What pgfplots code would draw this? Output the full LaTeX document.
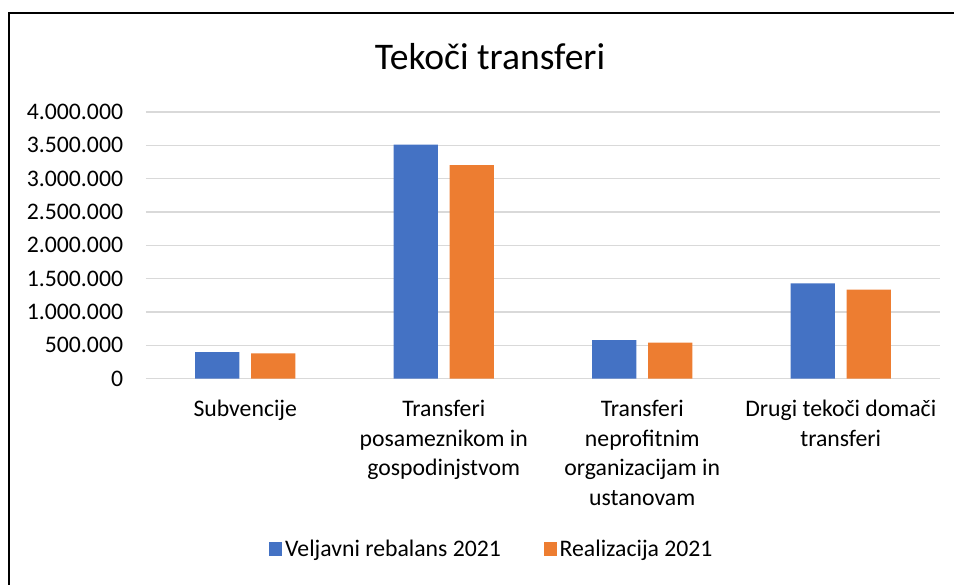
\documentclass[border=0pt]{standalone}
\usepackage{pgfplots}
\pgfplotsset{compat=1.18}
\usepackage{fontspec}
\setmainfont{Carlito}
\definecolor{xlBlue}{HTML}{4472C4}
\definecolor{xlOrange}{HTML}{ED7D31}
\definecolor{xlGrid}{HTML}{D9D9D9}
\begin{document}
\begin{tikzpicture}
\useasboundingbox (0pt,0pt) rectangle (715.5pt,438.75pt);
% outer frame: only the left and top edges are visible
\fill[black] (6.35pt,0pt) rectangle (7.15pt,429.4pt);
\fill[black] (6.35pt,428.6pt) rectangle (715.5pt,429.4pt);
\node[font=\fontsize{28.2}{33}\selectfont] at (367.5pt,396pt) {Tekoči transferi};
\begin{axis}[
  at={(109.5pt,154.725pt)}, anchor=south west,
  scale only axis, width=595.5pt, height=200pt,
  ybar, bar width=33.3pt,
  xmin=-0.5, xmax=3.5, ymin=0, ymax=4000000,
  xtick={0,1,2,3},
  xticklabels={Subvencije,
    {Transferi\\posameznikom in\\gospodinjstvom},
    {Transferi\\neprofitnim\\organizacijam in\\ustanovam},
    {Drugi tekoči domači\\transferi}},
  ytick={0,500000,1000000,1500000,2000000,2500000,3000000,3500000,4000000},
  scaled y ticks=false,
  /pgf/number format/assume math mode=true,
  yticklabel={\pgfmathprintnumber[fixed, 1000 sep={.}]{\tick}},
  major tick length=0pt,
  axis x line*=bottom, axis y line*=left,
  x axis line style={xlGrid, line width=0.9pt},
  y axis line style={draw=none},
  ymajorgrids, grid style={xlGrid, line width=0.9pt},
  tick label style={font=\fontsize{17.8}{22.2}\selectfont},
  yticklabel style={anchor=east, inner sep=0pt, xshift=-17pt},
  xticklabel style={align=center, anchor=north, inner sep=0pt, yshift=-16pt},
  legend style={draw=none, fill=none, at={(0.436,-0.639)}, anchor=center,
    font=\fontsize{17.8}{21.75}\selectfont,
    /tikz/every even column/.append style={column sep=30pt}},
  legend columns=2,
  legend image code/.code={\fill[#1] (0pt,-5pt) rectangle (10pt,5pt);},
  clip=false,
]
\addplot[fill=xlBlue, draw=none, bar shift=-21pt]
  coordinates {(0,400000) (1,3510000) (2,580000) (3,1430000)};
\addlegendentry{Veljavni rebalans 2021}
\addplot[fill=xlOrange, draw=none, bar shift=21pt]
  coordinates {(0,380000) (1,3205000) (2,540000) (3,1335000)};
\addlegendentry{Realizacija 2021}
\end{axis}
\end{tikzpicture}
\end{document}
